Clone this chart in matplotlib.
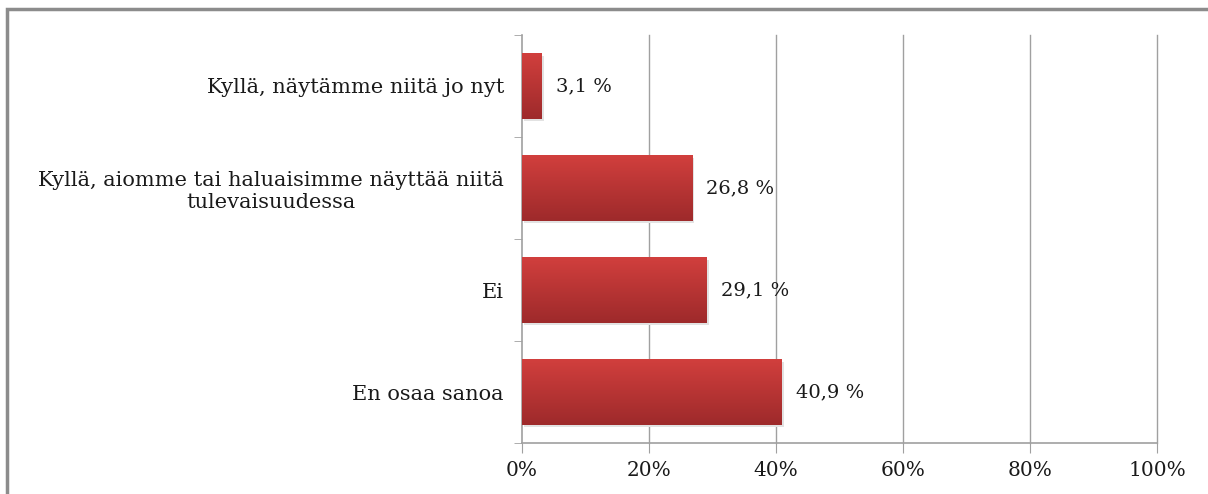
import numpy as np
import matplotlib.pyplot as plt
from matplotlib.patches import Rectangle
from matplotlib.colors import LinearSegmentedColormap

# Data (top to bottom as shown)
categories = ["Kyllä, näytämme niitä jo nyt",
              "Kyllä, aiomme tai haluaisimme näyttää niitä\ntulevaisuudessa",
              "Ei",
              "En osaa sanoa"]
values = [3.1, 26.8, 29.1, 40.9]
value_labels = ["3,1 %", "26,8 %", "29,1 %", "40,9 %"]
xticks = [0, 20, 40, 60, 80, 100]
xtick_labels = ["0%", "20%", "40%", "60%", "80%", "100%"]

plt.rcParams['font.family'] = ['DejaVu Serif']

fig = plt.figure(figsize=(12.08, 4.94), dpi=100)
fig.patch.set_facecolor('white')

# outer frame (runs off the right and bottom edges)
fig.patches.append(Rectangle((7 / 1208, -0.05), 1.2, 1 - 9 / 494 + 0.05,
                             transform=fig.transFigure, fill=False,
                             edgecolor='#8c8c8c', linewidth=2.5, zorder=0))

ax = fig.add_axes([522 / 1208, 1 - 443 / 494, 635 / 1208, 408 / 494])

y = np.arange(len(categories))[::-1]
h = 0.64

# shadow
ax.barh(y - 0.025, values, height=h, left=0.3, color='#e2e2e2', zorder=2)
bars = ax.barh(y, values, height=h, color='#b83333', zorder=3)

# vertical gradient on bars
grad = np.linspace(0, 1, 100).reshape(-1, 1)
cmap = LinearSegmentedColormap.from_list('redgrad', ['#9e2a2b', '#d13f3d'])
for b in bars:
    x0, y0 = b.get_x(), b.get_y()
    im = ax.imshow(grad, extent=[x0, x0 + b.get_width(), y0, y0 + b.get_height()],
                   origin='lower', cmap=cmap, aspect='auto', zorder=4)
    im.set_clip_path(b)

for yi, v, lab in zip(y, values, value_labels):
    ax.text(v + 2.2, yi, lab, va='center', ha='left', fontsize=14, color='#1a1a1a')

ax.set_xlim(0, 100)
ax.set_ylim(-0.5, len(categories) - 0.5)
ax.set_xticks(xticks)
ax.set_xticklabels(xtick_labels, fontsize=14.5, color='#1a1a1a')
ax.set_yticks(y)
ax.set_yticklabels(categories, fontsize=15, color='#1a1a1a', ha='right',
                   multialignment='center')
ax.tick_params(axis='y', length=0, pad=13)
ax.tick_params(axis='x', length=7, color='#a0a0a0', pad=6)

# category boundary ticks on y axis
ax.set_yticks(np.arange(-0.5, len(categories), 1), minor=True)
ax.tick_params(axis='y', which='minor', length=6, color='#a0a0a0')

for xv in xticks[1:]:
    ax.axvline(xv, color='#a0a0a0', linewidth=1.0, zorder=1, clip_on=False)
for s in ['top', 'right']:
    ax.spines[s].set_visible(False)
for s in ['left', 'bottom']:
    ax.spines[s].set_color('#a0a0a0')
    ax.spines[s].set_linewidth(1.2)

fig.savefig('out.png', dpi=100)
